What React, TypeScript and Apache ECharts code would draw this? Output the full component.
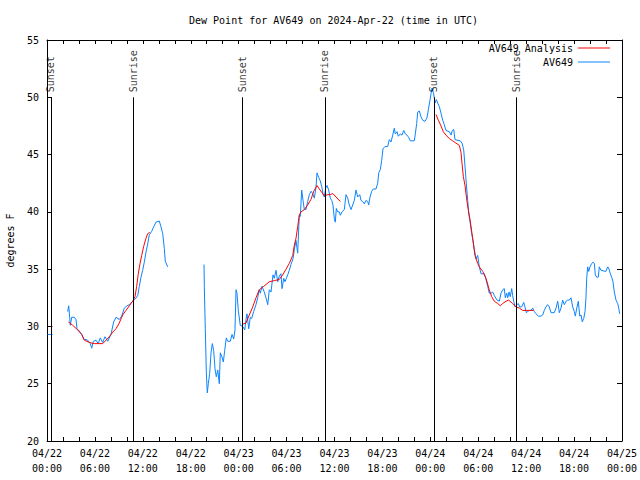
import React, { useEffect, useRef } from "react";
import * as echarts from "echarts";

// hours since 2024-04-22 00:00 UTC, dew point (°F)
const av649Seg1: number[][] = [[0.05, 29.3], [0.7, 29.3]];
const av649Seg2: number[][] = [
  [2.59, 31.3], [2.72, 31.8], [2.84, 30.8], [2.92, 30.1], [3.09, 30.8], [3.42, 30.8], [3.63, 30.6],
  [3.76, 29.8], [4.04, 29.6], [4.35, 29.3], [4.6, 28.9], [5.1, 28.8], [5.42, 28.5], [5.6, 28.1],
  [5.8, 28.7], [6.14, 28.8], [6.42, 28.5], [6.67, 29.0], [6.97, 28.6], [7.26, 29.1], [7.6, 28.7],
  [8.01, 29.3], [8.35, 30.4], [8.64, 30.8], [9.05, 30.6], [9.35, 30.9], [9.68, 31.6], [10.02, 31.8],
  [10.31, 31.9], [10.73, 32.2], [11.06, 32.4], [11.36, 32.7], [11.56, 33.5], [11.77, 34.3],
  [11.98, 34.9], [12.18, 35.6], [12.4, 36.5], [12.61, 37.2], [12.81, 38.0], [13.11, 38.3],
  [13.36, 38.7], [13.65, 39.1], [14.06, 39.2], [14.27, 38.7], [14.49, 38.1], [14.69, 36.8],
  [14.81, 35.7], [15.11, 35.2],
];
const av649Seg3: number[][] = [
  [19.66, 35.4], [19.7, 33.5], [19.82, 29.8], [19.95, 26.0], [20.07, 24.2], [20.2, 25.0], [20.37, 25.9],
  [20.54, 27.7], [20.7, 28.5], [20.87, 27.9], [21.04, 26.3], [21.2, 25.6], [21.38, 26.2], [21.58, 25.0],
  [21.7, 27.7], [21.88, 27.4], [22.08, 26.9], [22.25, 27.9], [22.45, 29.0], [22.63, 28.7], [22.95, 28.7],
  [23.17, 29.3], [23.38, 28.9], [23.54, 29.7], [23.67, 33.2], [23.79, 32.9], [23.95, 31.4], [24.2, 30.1],
  [24.51, 30.0], [24.76, 29.7], [24.92, 30.6], [25.04, 31.1], [25.26, 29.8], [25.46, 30.8], [25.63, 30.7],
  [25.88, 31.3], [26.17, 31.9], [26.38, 32.5], [26.58, 33.2], [26.71, 32.9], [26.92, 33.5], [27.21, 33.0],
  [27.42, 32.5], [27.64, 31.9], [27.84, 33.2], [28.05, 33.0], [28.3, 34.5], [28.46, 34.2], [28.68, 34.9],
  [28.89, 33.9], [29.09, 34.4], [29.3, 34.6], [29.43, 33.3], [29.64, 34.2], [29.8, 33.9], [29.97, 34.2],
  [30.14, 34.5], [30.34, 34.9], [30.55, 35.4], [30.8, 35.9], [30.97, 36.7], [31.18, 37.5], [31.39, 36.4],
  [31.59, 39.7], [31.72, 39.6], [31.89, 41.9], [32.06, 41.0], [32.22, 40.2], [32.43, 40.2], [32.64, 40.9],
  [32.85, 41.5], [33.06, 41.8], [33.27, 41.6], [33.47, 41.2], [33.68, 42.1], [33.81, 43.4], [34.02, 43.0],
  [34.22, 42.7], [34.4, 42.2], [34.56, 41.6], [34.72, 41.3], [34.9, 42.1], [35.06, 42.3], [35.27, 41.9],
  [35.47, 41.2], [35.65, 41.0], [35.81, 40.6], [35.98, 39.4], [36.1, 39.1], [36.23, 40.3], [36.4, 40.0],
  [36.6, 40.0], [36.73, 39.7], [36.94, 40.0], [37.23, 40.2], [37.44, 41.5], [37.65, 41.2], [37.85, 40.6],
  [38.07, 40.2], [38.28, 40.6], [38.48, 41.0], [38.69, 41.9], [38.91, 41.3], [39.16, 41.5], [39.32, 41.0],
  [39.53, 40.9], [39.73, 40.7], [39.94, 41.0], [40.16, 40.9], [40.28, 40.6], [40.45, 41.3], [40.66, 41.8],
  [40.86, 42.0], [41.2, 42.0], [41.41, 42.5], [41.54, 43.4], [41.74, 43.7], [41.91, 44.5], [42.07, 45.5],
  [42.32, 45.7], [42.66, 45.7], [42.86, 46.3], [43.08, 46.1], [43.29, 46.7], [43.49, 47.3], [43.61, 46.8],
  [43.83, 47.0], [43.99, 46.6], [44.24, 46.8], [44.45, 46.7], [44.67, 47.1], [44.87, 46.8], [45.08, 46.7],
  [45.29, 46.5], [45.49, 46.2], [45.99, 46.2], [46.12, 46.8], [46.29, 47.7], [46.42, 48.7], [46.62, 48.8],
  [46.83, 48.3], [47.04, 48.0], [47.33, 47.9], [47.58, 48.2], [47.75, 48.9], [47.92, 49.6], [48.08, 50.3],
  [48.21, 50.8], [48.42, 50.3], [48.59, 49.5], [48.75, 49.8], [48.92, 49.5], [49.12, 49.2], [49.34, 48.6],
  [49.55, 48.0], [49.75, 47.6], [49.96, 47.1], [50.38, 47.0], [50.59, 46.7], [50.75, 47.1], [50.93, 47.2],
  [51.09, 46.3], [51.75, 46.2], [51.97, 46.0], [52.18, 45.4], [52.34, 44.0], [52.5, 42.5], [52.68, 41.0],
  [52.8, 39.9], [53.0, 39.0], [53.18, 38.1], [53.34, 37.5], [53.51, 36.7], [53.72, 35.9], [53.93, 36.2],
  [54.13, 35.2], [54.35, 34.6], [54.76, 34.6], [54.97, 34.1], [55.18, 33.5], [55.38, 32.9], [55.6, 32.9],
  [55.81, 33.0], [56.01, 32.7], [56.35, 32.3], [56.64, 32.2], [56.85, 32.9], [57.06, 33.2], [57.26, 33.3],
  [57.39, 32.5], [57.56, 32.9], [57.69, 32.5], [57.85, 33.0], [58.01, 32.6], [58.19, 33.3], [58.31, 32.7],
  [58.44, 32.2], [58.6, 31.7], [58.85, 31.9], [59.02, 32.0], [59.19, 31.7], [59.44, 31.7], [59.69, 32.1],
  [59.85, 31.7], [60.02, 31.2], [60.19, 31.3], [60.39, 31.4], [60.61, 31.4], [60.82, 31.6], [61.02, 31.3],
  [61.23, 31.1], [61.52, 30.9], [61.86, 30.9], [62.07, 31.0], [62.27, 31.4], [62.48, 31.7], [62.69, 31.9],
  [62.9, 31.7], [63.11, 31.2], [63.52, 31.2], [63.74, 31.6], [63.95, 32.2], [64.15, 31.2], [64.36, 31.6],
  [64.57, 32.3], [64.78, 31.9], [64.99, 32.2], [65.2, 32.3], [65.4, 32.3], [65.61, 32.5], [65.83, 31.7],
  [66.03, 31.3], [66.15, 30.9], [66.37, 31.7], [66.53, 32.2], [66.71, 30.9], [66.87, 31.0], [67.03, 30.4],
  [67.21, 30.7], [67.37, 31.3], [67.49, 32.5], [67.58, 34.2], [67.7, 35.2], [67.83, 34.8], [67.99, 35.2],
  [68.21, 35.5], [68.37, 35.6], [68.54, 35.5], [68.66, 34.5], [68.83, 34.3], [69.03, 34.3], [69.16, 35.2],
  [69.37, 34.9], [69.99, 34.8], [70.21, 35.2], [70.33, 35.1], [70.54, 34.6], [70.71, 34.3], [70.87, 33.9],
  [71.04, 33.0], [71.25, 32.3], [71.46, 32.0], [71.59, 31.6], [71.71, 31.1],
];

const analysisSeg1: number[][] = [[0.45, 30.0], [0.7, 30.0]];
const analysisSeg2: number[][] = [
  [2.67, 30.4], [3.22, 30.1], [3.84, 29.7], [4.35, 29.3], [4.67, 28.8], [5.3, 28.6], [5.92, 28.5],
  [6.42, 28.5], [6.97, 28.5], [7.39, 28.8], [7.8, 29.1], [8.23, 29.5], [8.64, 29.8], [9.05, 30.3],
  [9.48, 31.0], [9.89, 31.4], [10.31, 31.8], [10.73, 32.2], [11.02, 32.6], [11.23, 33.5], [11.43, 34.6],
  [11.65, 35.5], [11.86, 36.2], [12.11, 37.0], [12.4, 37.7], [12.61, 38.1], [12.86, 38.2],
];
const analysisSeg3: number[][] = [
  [24.54, 30.2], [24.92, 30.3], [25.33, 31.0], [25.76, 31.7], [26.17, 32.5], [26.58, 33.2], [27.14, 33.5],
  [27.84, 33.9], [28.46, 34.0], [29.09, 34.1], [29.51, 34.5], [29.93, 35.0], [30.34, 35.5], [30.77, 36.2],
  [30.97, 37.1], [31.18, 37.7], [31.39, 38.7], [31.59, 39.7], [31.81, 40.0], [32.22, 40.2], [32.64, 40.6],
  [33.06, 41.1], [33.4, 41.8], [33.81, 42.3], [34.1, 42.0], [34.4, 41.7], [34.72, 41.4], [35.15, 41.5],
  [35.47, 41.5], [35.78, 41.6], [36.19, 41.3], [36.73, 40.9],
];
const analysisSeg4: number[][] = [
  [48.71, 48.5], [49.0, 48.0], [49.34, 47.5], [49.62, 47.0], [49.96, 46.7], [50.38, 46.4], [50.8, 46.2],
  [51.21, 46.0], [51.63, 45.8], [51.84, 45.2], [51.97, 44.2], [52.13, 43.1], [52.34, 42.3], [52.59, 40.9],
  [52.75, 40.2], [53.0, 39.2], [53.3, 37.7], [53.59, 36.2], [53.93, 35.5], [54.13, 35.2], [54.56, 34.8],
  [54.97, 34.2], [55.38, 33.2], [55.68, 32.6], [56.01, 32.2], [56.44, 32.0], [56.76, 31.8], [57.06, 32.0],
  [57.48, 32.2], [57.8, 32.3], [58.31, 32.0], [58.73, 31.7], [59.14, 31.6], [59.57, 31.4], [59.98, 31.4],
  [60.39, 31.4], [60.94, 31.4],
];

const eventHours = [0.5, 10.85, 24.5, 34.8, 48.45, 58.8];
const eventNames = ["Sunset", "Sunrise", "Sunset", "Sunrise", "Sunset", "Sunrise"];
const eventTop = 50;
const yTicks = [20, 25, 30, 35, 40, 45, 50, 55];

const FONT = "DejaVu Sans Mono";

function joinSegments(segs: number[][][]): (number | null)[][] {
  const out: (number | null)[][] = [];
  segs.forEach((s, i) => {
    if (i > 0) out.push([(segs[i - 1][segs[i - 1].length - 1][0] + s[0][0]) / 2, null]);
    s.forEach((p) => out.push(p));
  });
  return out;
}

function fmtX(v: number): string {
  const day = 22 + Math.floor(v / 24);
  const hr = Math.round(v % 24);
  return `04/${day}\n${String(hr).padStart(2, "0")}:00`;
}

export default function App() {
  const ref = useRef<HTMLDivElement>(null);
  useEffect(() => {
    if (!ref.current) return;
    const chart = echarts.init(ref.current, undefined, { renderer: "svg" });
    const txt = { fontFamily: FONT, fontSize: 10, color: "#000" };
    const axisCommon = {
      type: "value" as const,
      axisLine: { show: true, onZero: false, lineStyle: { color: "#000", width: 1 } },
      splitLine: { show: false },
    };
    const tickStyle = { color: "#000", width: 1 };
    chart.setOption({
      animation: false,
      backgroundColor: "#fff",
      title: {
        text: "Dew Point for AV649 on 2024-Apr-22 (time in UTC)",
        left: 189,
        top: 15,
        padding: 0,
        textStyle: { ...txt, fontWeight: "normal" },
      },
      legend: [
        {
          data: ["AV649 Analysis"],
          right: 30,
          top: 42,
          padding: 0,
          align: "right",
          icon: "rect",
          itemWidth: 32,
          itemHeight: 1,
          textStyle: { ...txt, lineHeight: 12 },
          selectedMode: false,
        },
        {
          data: ["AV649"],
          right: 30,
          top: 56,
          padding: 0,
          align: "right",
          icon: "rect",
          itemWidth: 32,
          itemHeight: 1,
          textStyle: { ...txt, lineHeight: 12 },
          selectedMode: false,
        },
      ],
      grid: {
        left: 47,
        right: 18,
        top: 40,
        bottom: 39,
        containLabel: false,
        outerBoundsMode: "none",
      },
      xAxis: [
        {
          ...axisCommon,
          position: "bottom",
          min: 0,
          max: 72,
          interval: 6,
          axisTick: { show: true, inside: true, length: 4, lineStyle: tickStyle },
          minorTick: { show: true, splitNumber: 3, length: 4, lineStyle: tickStyle },
          axisLabel: { ...txt, margin: 5, lineHeight: 15, formatter: fmtX },
        },
        {
          ...axisCommon,
          position: "top",
          min: 0,
          max: 72,
          interval: 6,
          axisTick: { show: true, inside: true, length: 4, lineStyle: tickStyle },
          minorTick: { show: true, splitNumber: 3, length: 4, lineStyle: tickStyle },
          axisLabel: { show: false },
        },
      ],
      yAxis: [
        {
          ...axisCommon,
          position: "left",
          min: yTicks[0],
          max: yTicks[yTicks.length - 1],
          interval: 5,
          axisTick: { show: true, inside: true, length: 5, lineStyle: tickStyle },
          axisLabel: { ...txt, margin: 8 },
          name: "degrees F",
          nameLocation: "middle",
          nameRotate: 90,
          nameGap: 32,
          nameTextStyle: txt,
        },
        {
          ...axisCommon,
          position: "right",
          min: yTicks[0],
          max: yTicks[yTicks.length - 1],
          interval: 5,
          axisTick: { show: true, inside: true, length: 5, lineStyle: tickStyle },
          axisLabel: { show: false },
        },
      ],
      series: [
        {
          name: "AV649 Analysis",
          type: "line",
          data: joinSegments([analysisSeg1, analysisSeg2, analysisSeg3, analysisSeg4]),
          showSymbol: false,
          symbol: "none",
          color: "#ff0000",
          lineStyle: { color: "#ff0000", width: 1 },
          z: 3,
          markLine: {
            silent: true,
            symbol: "none",
            label: { show: false },
            lineStyle: { color: "#000", width: 1, type: "solid" },
            data: eventHours.map((h) => [
              { coord: [h, eventTop] },
              { coord: [h, yTicks[0]] },
            ]),
          },
        },
        {
          name: "AV649",
          type: "line",
          data: joinSegments([av649Seg1, av649Seg2, av649Seg3]),
          showSymbol: false,
          symbol: "none",
          color: "#0a84ff",
          lineStyle: { color: "#0a84ff", width: 1 },
          z: 2,
        },
        {
          name: "events",
          type: "scatter",
          symbolSize: 0,
          silent: true,
          data: eventHours.map((h, i) => [h, eventTop, eventNames[i]]),
          label: {
            show: true,
            position: "top",
            distance: 5,
            rotate: 90,
            align: "left",
            verticalAlign: "middle",
            formatter: (p: any) => p.value[2],
            ...txt,
          },
        },
      ],
    });
    return () => chart.dispose();
  }, []);
  return <div ref={ref} style={{ width: 640, height: 480, position: "absolute", left: 0, top: 0 }} />;
}
